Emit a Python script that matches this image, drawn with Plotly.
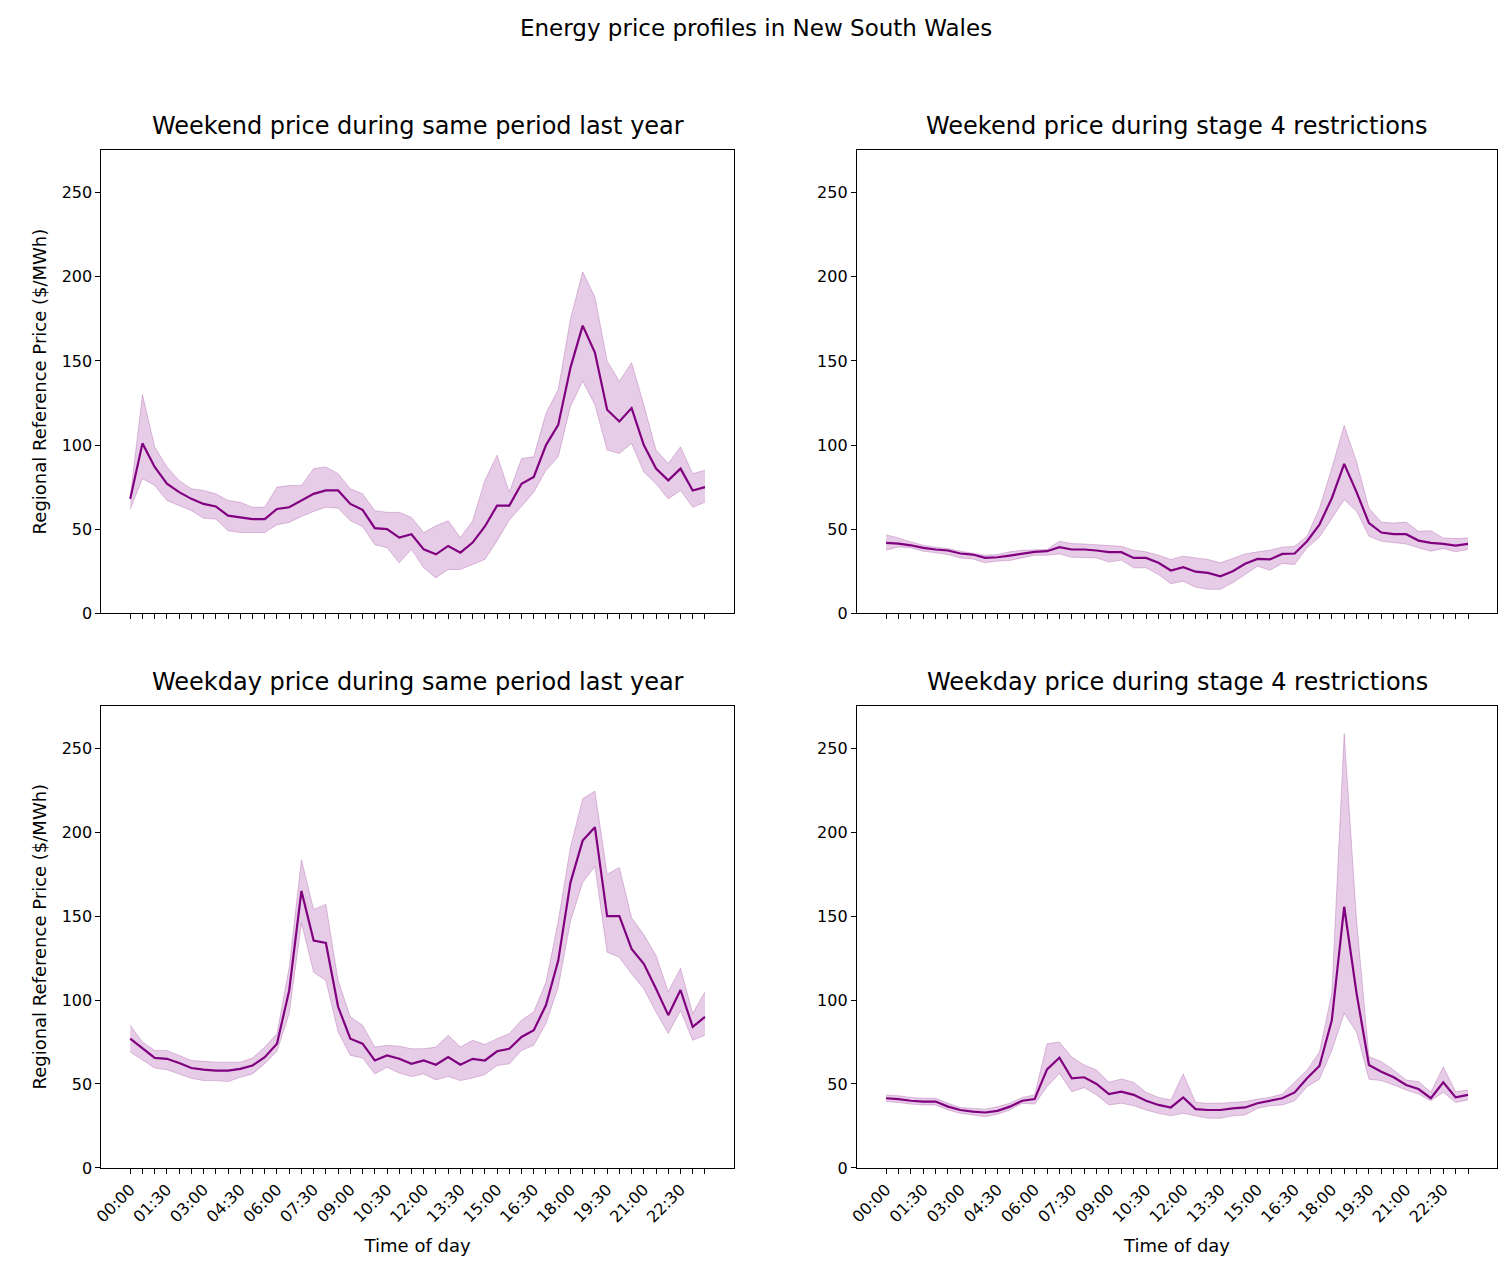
import plotly.graph_objects as go

times = [f"{h:02d}:{m:02d}" for h in range(24) for m in (0, 30)]

# weekend, same period last year
we_ly_mean = [68, 101, 87, 77, 72, 68, 65, 63.5, 58, 57, 56, 56, 62, 63, 67, 71, 73, 73, 65, 61.5,
              50.6, 50, 45, 47, 38, 35, 40, 36, 42, 51.6, 64, 64, 77, 81, 100, 112, 146, 171, 155, 121,
              114, 122, 100, 86, 79, 86, 73, 75]
we_ly_hi = [69, 130, 99, 87, 79, 74, 73, 71, 67, 66, 63, 63, 75, 76, 76, 86, 87, 83, 74, 71,
            61, 60, 60, 57, 48, 52, 55, 45, 55, 79, 94, 72, 92, 93, 119, 133, 175, 203, 188, 150,
            138, 149, 124, 97, 89, 99, 83, 85]
we_ly_lo = [62, 80, 76, 67, 64, 61, 56.5, 56, 49, 48, 48, 48, 52.6, 54, 57.5, 60.5, 63, 62.5, 55, 51.6,
            40.7, 39, 30, 38, 27, 21, 26, 26, 29, 32, 43, 55.5, 63.5, 72, 85, 93, 123, 138, 124, 97,
            95, 101, 84, 77, 68, 73, 63, 66]

# weekend, stage 4
we_s4_mean = [41.8, 41.4, 40.4, 38.9, 37.9, 37.3, 35.5, 34.9, 32.9, 33.3, 34.3, 35.5, 36.5, 36.9, 39.3, 37.9,
              37.9, 37.3, 36.3, 36.3, 32.9, 32.9, 30, 25.4, 27.4, 24.7, 24, 22, 25, 29.4, 32.3, 32,
              35.3, 35.5, 42.8, 52.7, 68.4, 88.8, 72, 53.6, 48, 47, 47, 43.2, 41.8, 41.2, 40.2, 41.2]
we_s4_hi = [46.7, 44.8, 42.4, 40.4, 39.3, 38.5, 36.9, 35.9, 34.5, 34.9, 36.5, 37.5, 37.9, 37.9, 42.8, 41.4,
            41.2, 40.8, 40.4, 39.8, 37.5, 36.5, 34.5, 32, 33.9, 32.9, 32, 30, 32.5, 35.3, 36.5, 37.5,
            39.3, 39.8, 45.8, 62.5, 86.2, 111.8, 90, 62.5, 54.2, 53.6, 54.2, 48.7, 49.1, 44.8, 44.4, 44.8]
we_s4_lo = [37.5, 39.4, 38.9, 36.9, 35.9, 34.9, 32.9, 32.3, 30, 31, 31.4, 32.9, 34.5, 34.5, 35.3, 33.3,
            33.3, 32.9, 30.4, 31.6, 27, 27, 23, 17.6, 19.1, 15.5, 14.2, 14.2, 18.1, 23, 28, 25.6,
            29.6, 29, 38.9, 45.2, 56.6, 67.5, 60.6, 45.8, 42.8, 41.8, 41.2, 38.9, 36.9, 38.5, 36.5, 37.9]

# weekday, same period last year
wd_ly_mean = [77, 71, 65.5, 65, 62.5, 59.5, 58.5, 58, 58, 59, 61, 66, 74, 105.7, 165, 135.5,
              134, 96, 77, 74, 64, 67, 65, 62, 64, 61.5, 66, 61.5, 65, 64, 69.5, 71,
              78, 82, 97, 123.5, 170, 195, 203, 150, 150, 130.5, 121.6, 106.7, 91, 106, 84, 90]
wd_ly_hi = [85, 75, 70, 70, 67, 64, 63.5, 63, 63, 63, 65.5, 72, 80, 119.5, 183.6, 154,
            157, 111.6, 90, 85, 72, 73, 72.5, 71, 71, 72, 79, 72, 76, 73.5, 77, 80,
            88, 93, 110.6, 147, 191, 220, 224.5, 175, 179, 149, 139, 126.5, 105, 119, 92, 105]
wd_ly_lo = [69, 64, 59.5, 58.5, 56, 53.4, 52, 52, 51.4, 54, 56, 62, 69.5, 92, 146, 116.6,
            111.6, 81, 67, 65.5, 56, 60, 56.5, 54.4, 56, 52.4, 54.4, 52, 53.6, 55.6, 61, 62,
            70, 73, 86, 107.7, 147, 170, 179.6, 128.5, 125.5, 115.6, 106.7, 92.7, 80, 93.7, 76, 79]

# weekday, stage 4
wd_s4_mean = [41.5, 41, 40, 39.5, 39.5, 36.5, 34.5, 33.5, 33, 34, 36.5, 40, 41, 58.7, 65.7, 53.4,
              54, 50, 44, 45.4, 43.5, 40, 37.5, 36, 42, 35, 34.5, 34.5, 35.5, 36, 38.5, 40,
              41.5, 45, 53.4, 60.7, 88, 155.6, 104, 61.3, 57.3, 54, 49.4, 47, 41.5, 51, 42, 43.5]
wd_s4_hi = [43.5, 43, 42, 41.5, 41.5, 38.5, 36, 35.5, 35, 36.5, 38.5, 42, 43.5, 74, 75, 66,
            61.3, 58.3, 51, 53, 51, 45, 42, 40.5, 56, 39, 38.5, 38.5, 39, 39.5, 41, 42,
            44, 51.4, 58.3, 69, 104, 258.7, 147.6, 66.3, 63.3, 58.3, 52.4, 51.4, 45, 60.3, 45.4, 46.4]
wd_s4_lo = [39.5, 39, 38, 37.5, 37.5, 34.5, 32.5, 31.5, 30.5, 32, 34.5, 38.5, 38, 48.4, 56.3, 45.4,
            47.8, 43.5, 37.5, 38.5, 37, 34.5, 32.5, 31, 32.5, 31, 29.6, 29.6, 31, 31.5, 35.5, 37,
            37.5, 40, 48.4, 52.8, 70, 92, 81, 52.8, 52, 49.4, 46.4, 44, 40, 45, 39, 40.5]

titles = ["Weekend price during same period last year", "Weekend price during stage 4 restrictions",
          "Weekday price during same period last year", "Weekday price during stage 4 restrictions"]
panels = [(we_ly_mean, we_ly_lo, we_ly_hi), (we_s4_mean, we_s4_lo, we_s4_hi),
          (wd_ly_mean, wd_ly_lo, wd_ly_hi), (wd_s4_mean, wd_s4_lo, wd_s4_hi)]

W, H = 1507, 1283
# pixel edges corrected for the page offset seen in the render
xdoms = [[85 / W, 721 / W], [845 / W, 1489 / W]]
ydoms = [[1 - 610 / H, 1 - 143 / H], [1 - 1169 / H, 1 - 703 / H]]
x = list(range(len(times)))
ticktext = [t if i % 3 == 0 else "" for i, t in enumerate(times)]

fig = go.Figure()
for k, (mean, lo, hi) in enumerate(panels):
    r, c = divmod(k, 2)
    ax = "" if k == 0 else str(k + 1)
    fig.add_trace(go.Scatter(x=x, y=lo, xaxis="x" + ax, yaxis="y" + ax, mode="lines",
                             line=dict(color="rgba(128,0,128,0.22)", width=1), showlegend=False))
    fig.add_trace(go.Scatter(x=x, y=hi, xaxis="x" + ax, yaxis="y" + ax, mode="lines", fill="tonexty",
                             fillcolor="rgba(128,0,128,0.2)",
                             line=dict(color="rgba(128,0,128,0.22)", width=1), showlegend=False))
    fig.add_trace(go.Scatter(x=x, y=mean, xaxis="x" + ax, yaxis="y" + ax, mode="lines",
                             line=dict(color="purple", width=2.2), showlegend=False))
    common = dict(showline=True, mirror=True, linecolor="black", linewidth=1.2, showgrid=False,
                  zeroline=False, ticks="outside", ticklen=5, tickcolor="black",
                  tickfont=dict(size=16))
    fig.layout["xaxis" + ax] = dict(domain=xdoms[c], anchor="y" + ax, range=[-2.35, 49.35],
                                    tickmode="array", tickvals=x,
                                    ticktext=ticktext if r == 1 else [""] * len(x),
                                    tickangle=-45,
                                    title=dict(text="Time of day" if r == 1 else "", standoff=14,
                                               font=dict(size=18)),
                                    **common)
    fig.layout["yaxis" + ax] = dict(domain=ydoms[r], anchor="x" + ax, range=[0, 275.5],
                                    tickvals=[0, 50, 100, 150, 200, 250],
                                    title=dict(text="Regional Reference Price ($/MWh)" if c == 0 else "",
                                               standoff=10, font=dict(size=18)),
                                    **common)
    fig.add_annotation(text=titles[k], xref="paper", yref="paper", x=sum(xdoms[c]) / 2,
                       y=ydoms[r][1], yshift=8, showarrow=False, xanchor="center", yanchor="bottom",
                       font=dict(size=24))

fig.add_annotation(text="Energy price profiles in New South Wales", xref="paper", yref="paper",
                   x=(754 - 11) / W, y=1 - 20 / H, showarrow=False, yanchor="middle", font=dict(size=23))

fig.update_layout(width=W, height=H, margin=dict(l=0, r=0, t=0, b=0),
                  plot_bgcolor="white", paper_bgcolor="white",
                  font=dict(family="DejaVu Sans", size=16, color="black"))
fig.write_html("out.html")
